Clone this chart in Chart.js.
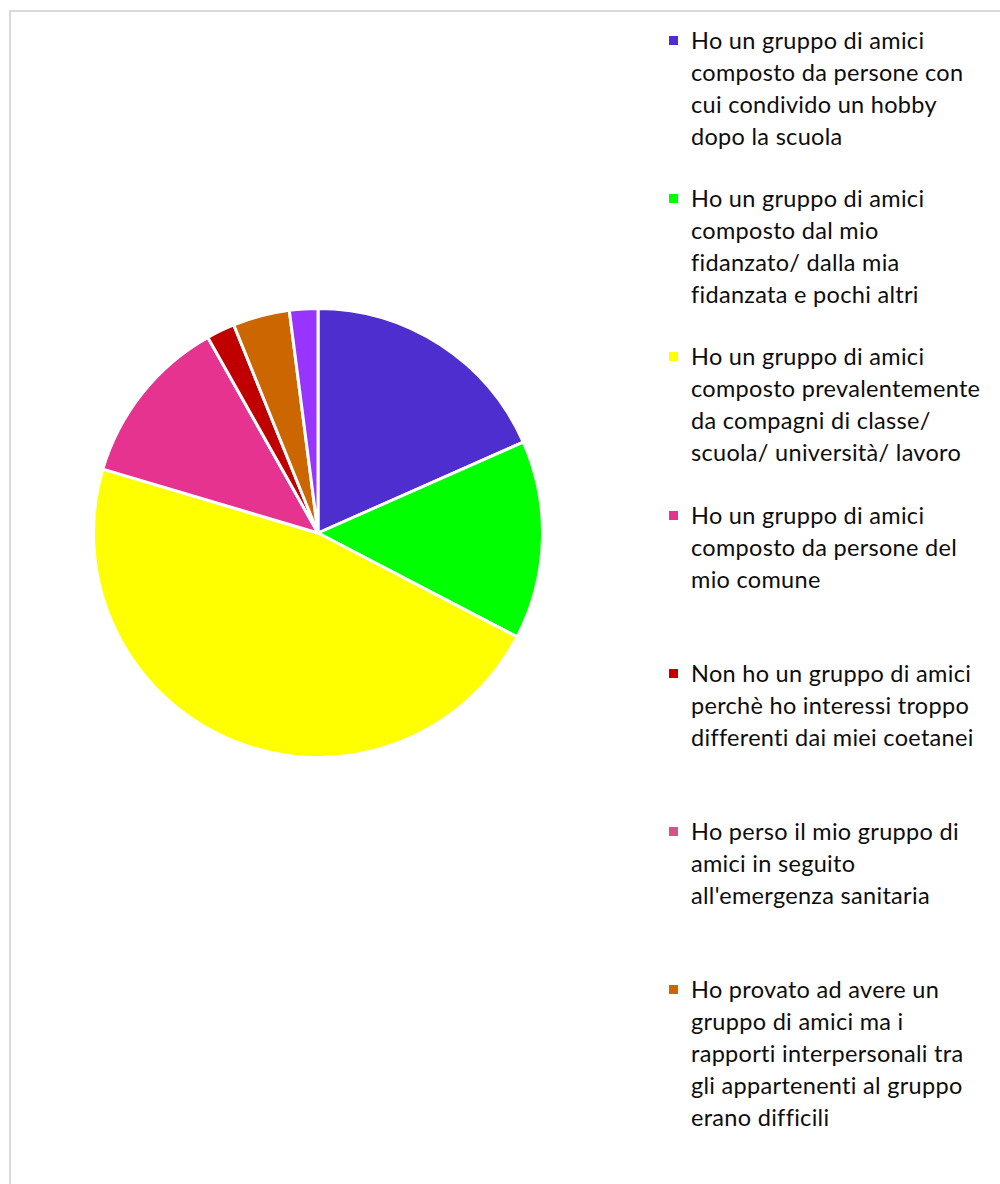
<!DOCTYPE html>
<html lang="it">
<head>
<meta charset="utf-8">
<title>Gruppo di amici</title>
<script src="https://cdn.jsdelivr.net/npm/chart.js@4/dist/chart.umd.min.js"></script>
<style>
  html, body { margin: 0; padding: 0; background: #ffffff; }
  body { width: 1000px; height: 1184px; position: relative; overflow: hidden; }
  #frame {
    position: absolute; left: 9px; top: 10px; width: 1010px; height: 1200px;
    border: 2px solid #d9d9d9; box-sizing: border-box;
  }
  #pieWrap { position: absolute; left: 92px; top: 307px; width: 452px; height: 452px; }
  #legend {
    position: absolute; left: 669px; top: 0; width: 331px;
    font-family: Lato, "Open Sans", sans-serif; font-size: 23.5px; letter-spacing: 0.3px;
    color: #0d0d0d; font-variant-ligatures: none;
  }
  .item { position: absolute; left: 0; width: 331px; }
  .box { position: absolute; left: 0; top: 12.1px; width: 9px; height: 9px; }
  .text { position: absolute; left: 22px; line-height: 32px; white-space: nowrap; }
</style>
</head>
<body>
<div id="frame"></div>
<div id="pieWrap"><canvas id="pie" width="452" height="452"></canvas></div>
<div id="legend"></div>
<script>
// Answers (each label split into the lines shown in the legend)
const categories = [
  ["Ho un gruppo di amici", "composto da persone con", "cui condivido un hobby", "dopo la scuola"],
  ["Ho un gruppo di amici", "composto dal mio", "fidanzato/ dalla mia", "fidanzata e pochi altri"],
  ["Ho un gruppo di amici", "composto prevalentemente", "da compagni di classe/", "scuola/ università/ lavoro"],
  ["Ho un gruppo di amici", "composto da persone del", "mio comune"],
  ["Non ho un gruppo di amici", "perchè ho interessi troppo", "differenti dai miei coetanei"],
  ["Ho perso il mio gruppo di", "amici in seguito", "all'emergenza sanitaria"],
  ["Ho provato ad avere un", "gruppo di amici ma i", "rapporti interpersonali tra", "gli appartenenti al gruppo", "erano difficili"],
  ["Altro"]
];

// Number of answers per option
const responses = [18, 14, 46, 12, 2, 0, 4, 2];

// Slice colours
const sliceColors = ["#4f2ecf", "#00ff00", "#ffff00", "#e5338f", "#c00000", "#d9508a", "#cc6600", "#9933ff"];

// Legend entries that fit in the panel
const legendCount = 7;

new Chart(document.getElementById("pie"), {
  type: "pie",
  data: {
    labels: categories.map(l => l.join(" ")),
    datasets: [{
      data: responses,
      backgroundColor: sliceColors,
      borderColor: "#ffffff",
      borderWidth: 3
    }]
  },
  options: {
    responsive: false,
    animation: false,
    layout: { padding: 0 },
    plugins: {
      legend: { display: false },
      tooltip: { enabled: false }
    }
  }
});

// Legend built from the same arrays
const legend = document.getElementById("legend");
for (let i = 0; i < legendCount; i++) {
  const item = document.createElement("div");
  item.className = "item";
  item.style.top = (23.9 + 158.25 * i) + "px";
  const box = document.createElement("div");
  box.className = "box";
  box.style.background = sliceColors[i];
  const text = document.createElement("div");
  text.className = "text";
  text.innerHTML = categories[i].map(s => s.replace(/&/g, "&amp;").replace(/</g, "&lt;")).join("<br>");
  item.appendChild(box);
  item.appendChild(text);
  legend.appendChild(item);
}
</script>
</body>
</html>
